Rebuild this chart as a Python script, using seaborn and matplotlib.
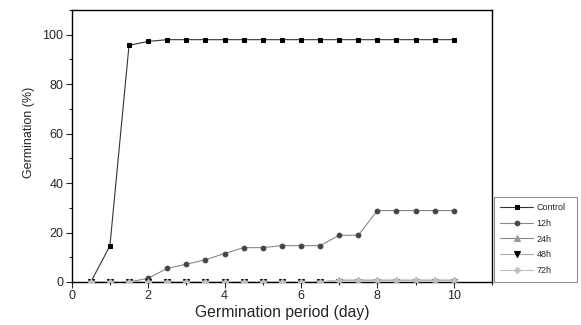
import numpy as np
import pandas as pd
import matplotlib
matplotlib.use("Agg")
import matplotlib.pyplot as plt
import seaborn as sns
from matplotlib.ticker import MultipleLocator

days = [0.5, 1, 1.5, 2, 2.5, 3, 3.5, 4, 4.5, 5, 5.5, 6, 6.5, 7, 7.5, 8, 8.5, 9, 9.5, 10]
control = [0, 14.6, 95.7, 97.3, 98, 98, 98, 98, 98, 98, 98, 98, 98, 98, 98, 98, 98, 98, 98, 98]
h12 = [0, 0, 0, 1.5, 5.5, 7.2, 9, 11.5, 13.9, 13.9, 14.7, 14.7, 14.7, 18.9, 18.9, 28.9, 28.9, 28.9, 28.9, 28.9]
h24 = [0, 0, 0, 0, 0, 0, 0, 0, 0, 0, 0, 0, 0, 0.7, 0.7, 0.7, 0.7, 0.7, 0.7, 0.7]
h48 = [0] * 20
h72 = [0, 0, 0, 0, 0, 0, 0, 0, 0, 0, 0, 0, 0, 0.7, 0.7, 0.7, 0.7, 0.7, 0.7, 0.7]
series_names = ["Control", "12h", "24h", "48h", "72h"]

sns.set_style("ticks")
plt.rcParams['font.family'] = ['Liberation Sans', 'DejaVu Sans']

fig = plt.figure(figsize=(5.81, 3.25), dpi=100)
ax = fig.add_axes([71.7 / 581, 1 - 282 / 325, (492 - 71.7) / 581, (282 - 10) / 325])

styles = {
    "Control": dict(marker="s", line="#333333", face="#000000", ms=3.4),
    "12h": dict(marker="o", line="#888888", face="#444444", ms=3.4),
    "24h": dict(marker="^", line="#888888", face="#999999", ms=3.8),
    "48h": dict(marker="v", line="#aaaaaa", face="#000000", ms=3.8),
    "72h": dict(marker="D", line="#c0c0c0", face="#c0c0c0", ms=3.2),
}
values = {"Control": control, "12h": h12, "24h": h24, "48h": h48, "72h": h72}

for name in series_names:
    st = styles[name]
    df = pd.DataFrame({"day": days, "val": values[name]})
    sns.lineplot(data=df, x="day", y="val", ax=ax, color=st["line"], lw=0.8,
                 marker=st["marker"], markersize=st["ms"],
                 markerfacecolor=st["face"], markeredgecolor=st["face"],
                 label=name, zorder=3)

ax.set_xlim(0, 11)
ax.set_ylim(0, 110)
ax.xaxis.set_major_locator(MultipleLocator(2))
ax.xaxis.set_minor_locator(MultipleLocator(1))
ax.yaxis.set_major_locator(MultipleLocator(20))
ax.yaxis.set_minor_locator(MultipleLocator(10))
ax.tick_params(axis="both", which="both", top=False, right=False)
ax.tick_params(axis="both", which="major", direction="out", length=4, width=0.8, labelsize=9, pad=2)
ax.tick_params(axis="both", which="minor", direction="out", length=2.5, width=0.8)
for sp in ax.spines.values():
    sp.set_visible(True)
    sp.set_linewidth(1.0)
    sp.set_color("black")
ax.set_xlabel("Germination period (day)", fontsize=11.3, labelpad=2)
ax.set_ylabel("Germination (%)", fontsize=9)
ax.yaxis.set_label_coords((35 - 71.7) / (492 - 71.7), (282 - 132.5) / 272)

handles, labels = ax.get_legend_handles_labels()
hmap = dict(zip(labels, handles))
if ax.get_legend():
    ax.get_legend().remove()
leg = fig.legend([hmap[n] for n in series_names], series_names,
                 loc="lower left", bbox_to_anchor=(494 / 581, (325 - 281.5) / 325, 83 / 581, 85 / 325),
                 mode="expand", fontsize=6.5, frameon=True, fancybox=False,
                 edgecolor="#777777", borderaxespad=0, handlelength=3.6,
                 handletextpad=0.4, labelspacing=0.75, borderpad=0.7)
leg.get_frame().set_linewidth(0.8)

fig.savefig("out.png", dpi=100)
